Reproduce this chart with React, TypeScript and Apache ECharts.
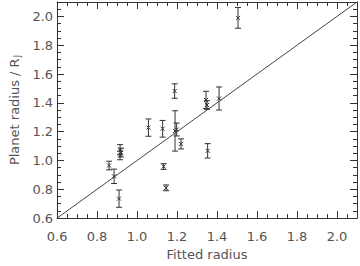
import React, { useEffect, useRef } from "react";
import * as echarts from "echarts";

const fittedRadius = [0.86, 0.885, 0.91, 0.915, 0.92, 0.915, 1.057, 1.128, 1.133, 1.145, 1.188, 1.19, 1.198, 1.22, 1.345, 1.35, 1.353, 1.41, 1.505];
const planetRadius = [0.965, 0.89, 0.735, 1.075, 1.055, 1.035, 1.228, 1.22, 0.958, 0.81, 1.482, 1.205, 1.215, 1.115, 1.42, 1.385, 1.067, 1.43, 1.99];
const radiusError = [0.03, 0.05, 0.06, 0.035, 0.03, 0.03, 0.06, 0.058, 0.02, 0.02, 0.05, 0.14, 0.045, 0.035, 0.06, 0.03, 0.05, 0.08, 0.072];
const oneToOne = [[0.6, 0.6], [2.1, 2.1]];
const axisMin = 0.6;
const axisMax = 2.1;
const tickStep = 0.2;

const INK = "#333";
const FONT = "DejaVu Sans";

export default function App() {
  const ref = useRef<HTMLDivElement>(null);
  useEffect(() => {
    document.body.style.margin = "0";
    const chart = echarts.init(ref.current!, null, { renderer: "svg" });
    const data = fittedRadius.map((x, i) => [x, planetRadius[i], radiusError[i]]);
    const baseAxis = (show: boolean) => ({
      type: "value",
      min: axisMin,
      max: axisMax,
      interval: tickStep,
      axisLine: { show: true, lineStyle: { color: INK, width: 1 } },
      axisTick: { show: true, inside: true, length: 7, lineStyle: { color: INK } },
      minorTick: { show: true, splitNumber: 4, length: 4, lineStyle: { color: INK } },
      splitLine: { show: false },
      axisLabel: {
        show,
        showMaxLabel: false,
        color: "#555",
        fontFamily: FONT,
        fontSize: 13,
        formatter: (v: number) => v.toFixed(1),
      },
    });
    chart.setOption({
      animation: false,
      grid: { left: 45, right: 3, top: 2, bottom: 35, containLabel: false },
      xAxis: [
        {
          ...baseAxis(true),
          position: "bottom",
          axisLabel: { ...baseAxis(true).axisLabel, margin: 12 },
          name: "Fitted radius",
          nameLocation: "middle",
          nameGap: 28,
          nameTextStyle: { color: "#555", fontFamily: FONT, fontSize: 13 },
        },
        { ...baseAxis(false), position: "top" },
      ],
      yAxis: [
        {
          ...baseAxis(true),
          position: "left",
          axisLabel: { ...baseAxis(true).axisLabel, margin: 4 },
          name: "Planet radius / R{sub|J}",
          nameLocation: "middle",
          nameGap: 31,
          nameTextStyle: {
            color: "#555",
            fontFamily: FONT,
            fontSize: 13,
            rich: { sub: { fontSize: 8, fontFamily: FONT, color: "#555", verticalAlign: "bottom", padding: [6, 0, 0, 1] } },
          },
        },
        { ...baseAxis(false), position: "right" },
      ],
      series: [
        {
          type: "line",
          data: oneToOne,
          showSymbol: false,
          lineStyle: { color: "#444", width: 1 },
          silent: true,
        },
        {
          type: "custom",
          data,
          renderItem: (params: any, api: any) => {
            const x = api.value(0);
            const y = api.value(1);
            const e = api.value(2);
            const p = api.coord([x, y]);
            const t = api.coord([x, y + e]);
            const b = api.coord([x, y - e]);
            const cap = 3;
            const m = 2;
            const style = { stroke: INK, lineWidth: 1, fill: null };
            return {
              type: "group",
              children: [
                { type: "line", shape: { x1: p[0], y1: t[1], x2: p[0], y2: b[1] }, style },
                { type: "line", shape: { x1: p[0] - cap, y1: t[1], x2: p[0] + cap, y2: t[1] }, style },
                { type: "line", shape: { x1: p[0] - cap, y1: b[1], x2: p[0] + cap, y2: b[1] }, style },
                { type: "line", shape: { x1: p[0] - m, y1: p[1] - m, x2: p[0] + m, y2: p[1] + m }, style },
                { type: "line", shape: { x1: p[0] - m, y1: p[1] + m, x2: p[0] + m, y2: p[1] - m }, style },
              ],
            };
          },
        },
      ],
    });
    return () => chart.dispose();
  }, []);
  return <div ref={ref} style={{ width: 360, height: 266 }} />;
}
